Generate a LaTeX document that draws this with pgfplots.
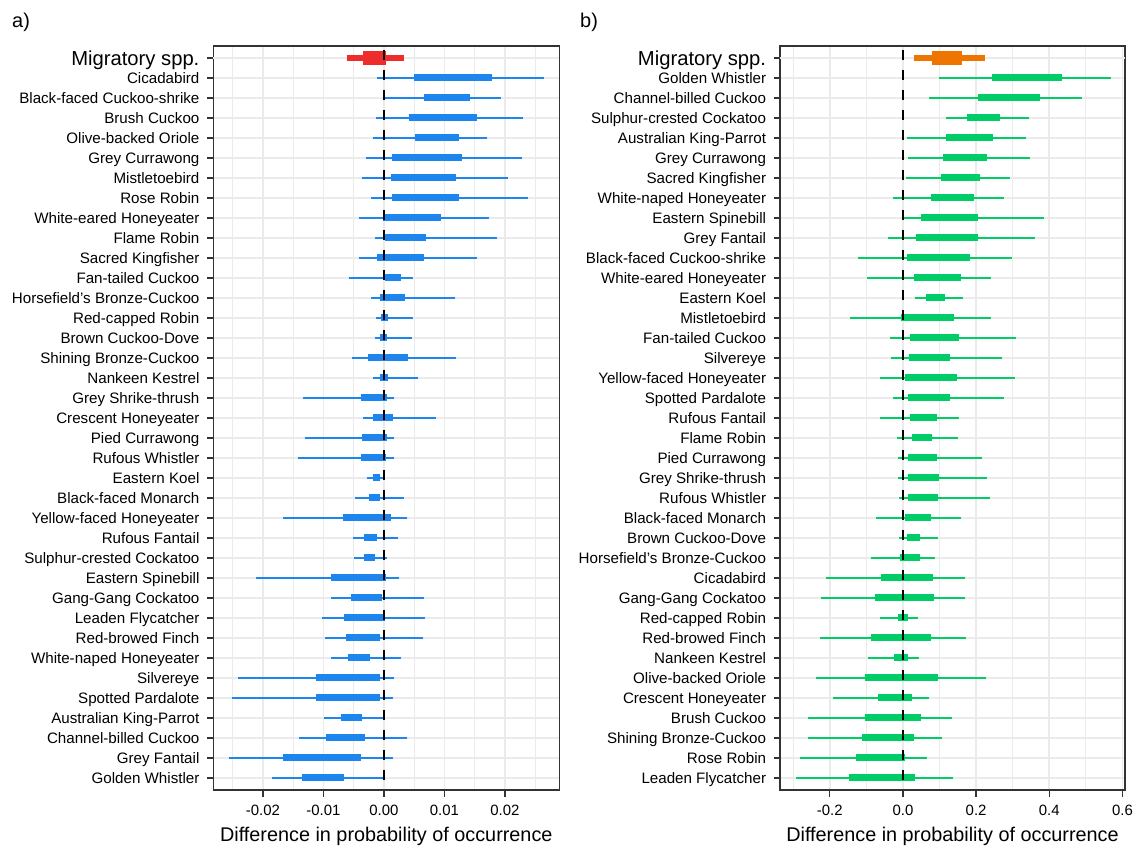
\documentclass[border=0pt]{standalone}
\usepackage{pgfplots}
\pgfplotsset{compat=1.18}
\usepackage{pgfplotstable}
\usepackage{fontspec}
\setmainfont{Liberation Sans}
\definecolor{cblue}{HTML}{1C86EE}
\definecolor{cred}{HTML}{EE2C2C}
\definecolor{cgreen}{HTML}{00CD66}
\definecolor{corange}{HTML}{EE7600}
\definecolor{gridc}{HTML}{EBEBEB}
\definecolor{axc}{HTML}{333333}

% panel a: y, name, 95% interval, 50% interval
\pgfplotstableread[col sep=comma]{
y,name,lo95,hi95,lo50,hi50
1,Golden Whistler,-0.01851,0.00000,-0.01355,-0.00667
2,Grey Fantail,-0.02556,0.00154,-0.01669,-0.00380
3,Channel-billed Cuckoo,-0.01405,0.00375,-0.00964,-0.00314
4,Australian King-Parrot,-0.00986,0.00011,-0.00711,-0.00364
5,Spotted Pardalote,-0.02518,0.00143,-0.01118,-0.00066
6,Silvereye,-0.02419,0.00160,-0.01124,-0.00066
7,White-naped Honeyeater,-0.00876,0.00281,-0.00590,-0.00231
8,Red-browed Finch,-0.00970,0.00639,-0.00628,-0.00061
9,Leaden Flycatcher,-0.01025,0.00678,-0.00661,0.00017
10,Gang-Gang Cockatoo,-0.00876,0.00667,-0.00545,-0.00033
11,Eastern Spinebill,-0.02116,0.00242,-0.00876,0.00028
12,Sulphur-crested Cockatoo,-0.00496,0.00044,-0.00325,-0.00143
13,Rufous Fantail,-0.00507,0.00231,-0.00325,-0.00116
14,Yellow-faced Honeyeater,-0.01669,0.00375,-0.00678,0.00121
15,Black-faced Monarch,-0.00479,0.00325,-0.00242,-0.00066
16,Eastern Koel,-0.00281,-0.00022,-0.00176,-0.00072
17,Rufous Whistler,-0.01416,0.00160,-0.00375,0.00033
18,Pied Currawong,-0.01300,0.00160,-0.00369,0.00044
19,Crescent Honeyeater,-0.00347,0.00860,-0.00176,0.00154
20,Grey Shrike-thrush,-0.01333,0.00160,-0.00375,0.00044
21,Nankeen Kestrel,-0.00176,0.00567,-0.00066,0.00061
22,Shining Bronze-Cuckoo,-0.00523,0.01196,-0.00270,0.00391
23,Brown Cuckoo-Dove,-0.00149,0.00457,-0.00066,0.00044
24,Red-capped Robin,-0.00127,0.00479,-0.00050,0.00061
25,Horsefield's Bronze-Cuckoo,-0.00209,0.01168,-0.00066,0.00347
26,Fan-tailed Cuckoo,-0.00584,0.00474,0.00017,0.00275
27,Sacred Kingfisher,-0.00408,0.01532,-0.00116,0.00667
28,Flame Robin,-0.00149,0.01862,0.00017,0.00700
29,White-eared Honeyeater,-0.00408,0.01730,-0.00017,0.00942
30,Rose Robin,-0.00209,0.02386,0.00127,0.01245
31,Mistletoebird,-0.00369,0.02055,0.00110,0.01196
32,Grey Currawong,-0.00292,0.02281,0.00127,0.01289
33,Olive-backed Oriole,-0.00187,0.01697,0.00507,0.01245
34,Brush Cuckoo,-0.00132,0.02292,0.00408,0.01532
35,Black-faced Cuckoo-shrike,0.00011,0.01939,0.00667,0.01421
36,Cicadabird,-0.00121,0.02639,0.00501,0.01780
}\dataA
\pgfplotstableread[col sep=comma]{
y,lo95,hi95,lo50,hi50
37,-0.00617,0.00336,-0.00342,0.00028
}\migA

% panel b
\pgfplotstableread[col sep=comma]{
y,name,lo95,hi95,lo50,hi50
1,Leaden Flycatcher,-0.292,0.136,-0.148,0.033
2,Rose Robin,-0.281,0.067,-0.128,0.007
3,Shining Bronze-Cuckoo,-0.260,0.107,-0.111,0.031
4,Brush Cuckoo,-0.260,0.133,-0.104,0.049
5,Crescent Honeyeater,-0.190,0.071,-0.067,0.025
6,Olive-backed Oriole,-0.238,0.227,-0.104,0.096
7,Nankeen Kestrel,-0.095,0.043,-0.024,0.015
8,Red-browed Finch,-0.228,0.172,-0.087,0.077
9,Red-capped Robin,-0.064,0.040,-0.013,0.013
10,Gang-Gang Cockatoo,-0.225,0.169,-0.076,0.084
11,Cicadabird,-0.210,0.169,-0.060,0.082
12,Horsefield's Bronze-Cuckoo,-0.088,0.087,-0.009,0.046
13,Brown Cuckoo-Dove,-0.010,0.097,0.012,0.046
14,Black-faced Monarch,-0.074,0.159,0.005,0.077
15,Rufous Whistler,-0.010,0.238,0.014,0.096
16,Grey Shrike-thrush,-0.013,0.231,0.014,0.098
17,Pied Currawong,-0.013,0.215,0.014,0.092
18,Flame Robin,-0.017,0.151,0.024,0.080
19,Rufous Fantail,-0.064,0.153,0.019,0.093
20,Spotted Pardalote,-0.026,0.276,0.015,0.129
21,Yellow-faced Honeyeater,-0.062,0.306,0.005,0.148
22,Silvereye,-0.033,0.272,0.016,0.129
23,Fan-tailed Cuckoo,-0.035,0.308,0.020,0.153
24,Mistletoebird,-0.146,0.241,-0.005,0.139
25,Eastern Koel,0.034,0.164,0.063,0.115
26,White-eared Honeyeater,-0.098,0.240,0.030,0.158
27,Black-faced Cuckoo-shrike,-0.124,0.298,0.012,0.184
28,Grey Fantail,-0.040,0.360,0.036,0.205
29,Eastern Spinebill,-0.002,0.385,0.050,0.205
30,White-naped Honeyeater,-0.026,0.276,0.077,0.195
31,Sacred Kingfisher,0.009,0.292,0.104,0.210
32,Grey Currawong,0.015,0.348,0.110,0.229
33,Australian King-Parrot,0.011,0.335,0.118,0.245
34,Sulphur-crested Cockatoo,0.118,0.344,0.175,0.265
35,Channel-billed Cuckoo,0.072,0.489,0.204,0.374
36,Golden Whistler,0.099,0.568,0.243,0.435
}\dataB
\pgfplotstableread[col sep=comma]{
y,lo95,hi95,lo50,hi50
37,0.031,0.225,0.080,0.162
}\migB

\pgfplotsset{
  forest/.style={
    scale only axis, height=744bp,
    ymin=0.4, ymax=37.6, ytick={1,...,36},
    extra y ticks={37},
    extra y tick labels={Migratory spp.},
    extra y tick style={ymajorgrids=true,
      yticklabel style={font=\fontsize{20.3}{24}\selectfont, yshift=-1.85bp}},
    scaled x ticks=false,
    tick align=outside, tick pos=left,
    major tick length=6.5bp, minor tick length=0pt,
    xmajorgrids, xminorgrids, ymajorgrids,
    major grid style={draw=gridc, line width=1.6bp},
    minor grid style={draw=gridc, line width=0.8bp},
    axis line style={draw=axc, line width=1.3bp},
    every tick/.append style={draw=axc, line width=1.4bp},
    ticklabel style={text=black},
    /pgf/number format/assume math mode=true,
    yticklabel style={font=\fontsize{15.2}{18}\selectfont, anchor=base east, inner sep=0pt, xshift=-7.2bp, yshift=-5.45bp},
    xticklabel style={font=\fontsize{15}{18}\selectfont, anchor=base, inner sep=0pt, yshift=-19.2bp},
    xlabel={Difference in probability of occurrence},
    xlabel style={font=\fontsize{19.9}{24}\selectfont, at={(axis description cs:0.5,0)},
      anchor=base, inner sep=0pt, yshift=-51.7bp},
  },
  ebar/.style 2 args={draw=none, mark=none, forget plot,
    error bars/x dir=plus, error bars/x explicit, error bars/error mark=none,
    error bars/error bar style={draw=#1, line width=#2}},
  zeroline/.style={black, line width=2.4bp, dash pattern=on 10bp off 10bp, dash phase=16bp, forget plot},
}

\begin{document}
\begin{tikzpicture}
\useasboundingbox (0,0) rectangle (1144bp,846bp);
\node[anchor=base west, inner sep=0pt, font=\fontsize{20}{24}\selectfont] at (12bp,818bp) {a)};
\node[anchor=base west, inner sep=0pt, font=\fontsize{20}{24}\selectfont] at (580bp,818bp) {b)};

\begin{axis}[forest, at={(213.3bp,56bp)}, anchor=south west, width=346bp,
  xmin=-0.0282, xmax=0.0290,
  xtick={-0.02,-0.01,0,0.01,0.02},
  minor xtick={-0.025,-0.015,-0.005,0.005,0.015,0.025},
  xticklabel style={/pgf/number format/fixed, /pgf/number format/fixed zerofill, /pgf/number format/precision=2},
  yticklabels from table={\dataA}{name}]
\addplot[ebar={cblue}{2.3bp}] table[x=lo95, y=y, x error plus expr=\thisrow{hi95}-\thisrow{lo95}] {\dataA};
\addplot[ebar={cblue}{7bp}] table[x=lo50, y=y, x error plus expr=\thisrow{hi50}-\thisrow{lo50}] {\dataA};
\addplot[ebar={cred}{5.3bp}] table[x=lo95, y=y, x error plus expr=\thisrow{hi95}-\thisrow{lo95}] {\migA};
\addplot[ebar={cred}{13.7bp}] table[x=lo50, y=y, x error plus expr=\thisrow{hi50}-\thisrow{lo50}] {\migA};
\addplot[zeroline] coordinates {(0,37.6) (0,0.4)};
\end{axis}

\begin{axis}[forest, at={(780bp,56bp)}, anchor=south west, width=345bp,
  xmin=-0.336, xmax=0.607,
  xtick={-0.2,0,0.2,0.4,0.6},
  minor xtick={-0.3,-0.1,0.1,0.3,0.5},
  xticklabel style={/pgf/number format/fixed, /pgf/number format/fixed zerofill, /pgf/number format/precision=1},
  yticklabels from table={\dataB}{name}]
\addplot[ebar={cgreen}{2.3bp}] table[x=lo95, y=y, x error plus expr=\thisrow{hi95}-\thisrow{lo95}] {\dataB};
\addplot[ebar={cgreen}{7bp}] table[x=lo50, y=y, x error plus expr=\thisrow{hi50}-\thisrow{lo50}] {\dataB};
\addplot[ebar={corange}{5.3bp}] table[x=lo95, y=y, x error plus expr=\thisrow{hi95}-\thisrow{lo95}] {\migB};
\addplot[ebar={corange}{13.7bp}] table[x=lo50, y=y, x error plus expr=\thisrow{hi50}-\thisrow{lo50}] {\migB};
\addplot[zeroline] coordinates {(0,37.6) (0,0.4)};
\end{axis}
\end{tikzpicture}
\end{document}
